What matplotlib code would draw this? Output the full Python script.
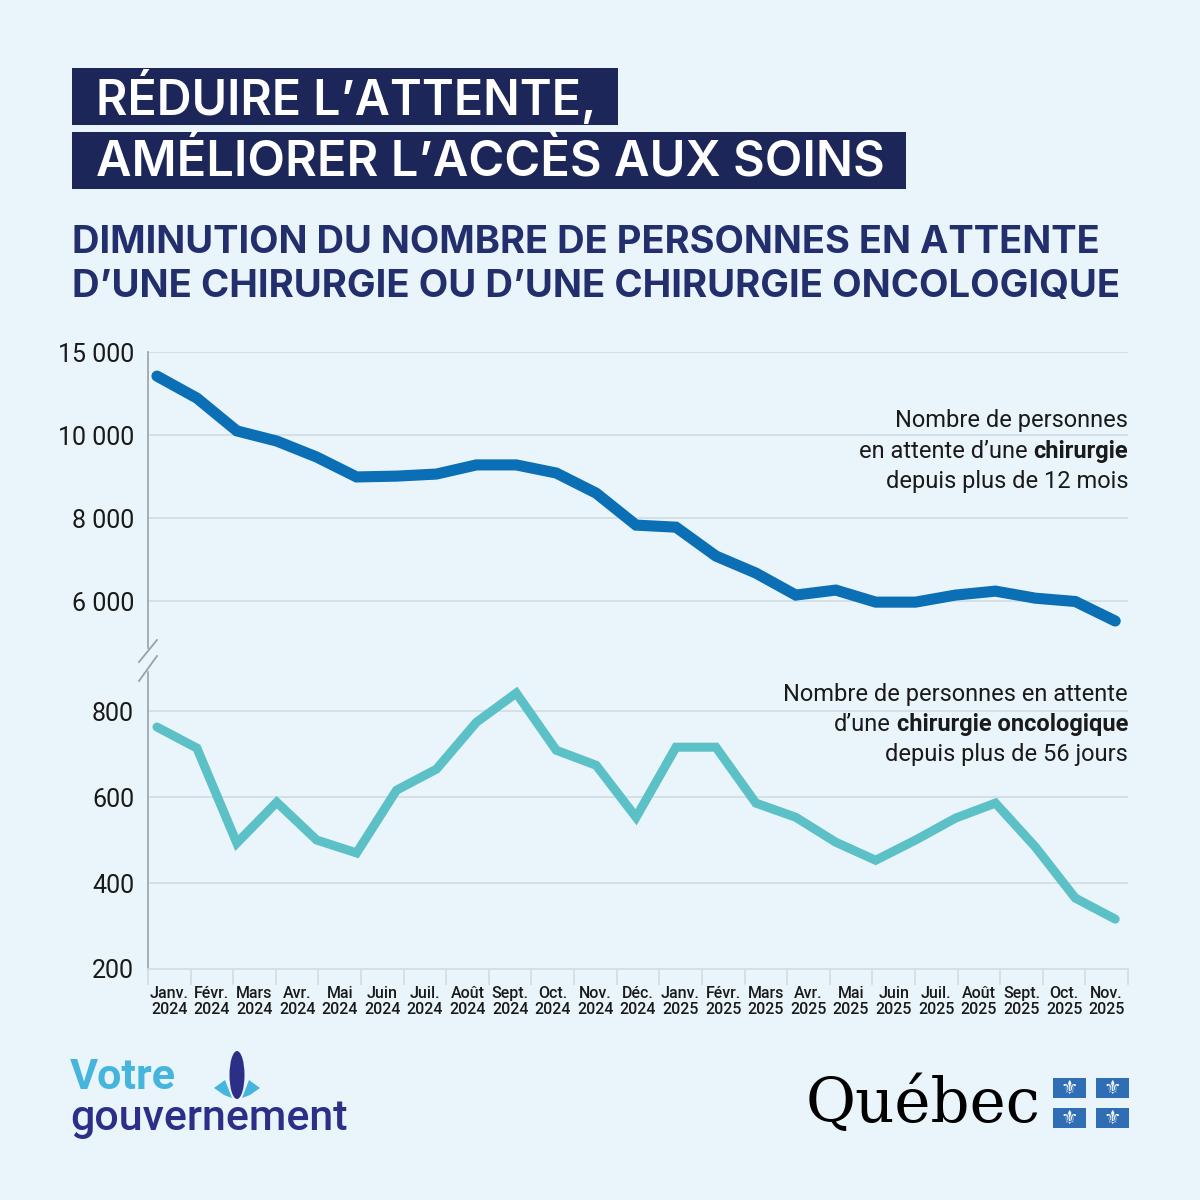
import matplotlib
matplotlib.use("Agg")
import matplotlib.pyplot as plt
import numpy as np
from matplotlib.patches import Rectangle, Ellipse, Polygon
from matplotlib.lines import Line2D

# chart data (25 four-week periods, Jan 2024 -> Nov 2025)
months = ["Janv.", "Févr.", "Mars", "Avr.", "Mai", "Juin", "Juil.", "Août",
          "Sept.", "Oct.", "Nov.", "Déc.", "Janv.", "Févr.", "Mars", "Avr.",
          "Mai", "Juin", "Juil.", "Août", "Sept.", "Oct.", "Nov."]
years = ["2024"] * 12 + ["2025"] * 11
chirurgie = [11420, 10890, 10100, 9855, 9470, 8990, 9010, 9060, 9280, 9280,
             9085, 8600, 7830, 7780, 7085, 6675, 6145, 6265, 5975, 5975,
             6145, 6240, 6070, 5990, 5520]
oncologie = [763, 714, 493, 588, 500, 470, 616, 665, 774, 842, 709, 674, 553,
             716, 716, 586, 553, 495, 453, 500, 551, 586, 484, 365, 316]
top_ticks = [6000, 8000, 10000, 12000]
top_labels = ["6 000", "8 000", "10 000", "15 000"]
bot_ticks = [200, 400, 600, 800]
bot_labels = ["200", "400", "600", "800"]

BG = "#eaf5fb"
NAVY = "#1c2658"
SUB = "#232f6c"
BLUE = "#0a6fb4"
TEAL = "#5bc1c6"
GRID = "#d3dde4"
AXIS = "#9aa0a6"
TXT = "#1a1a1a"
HEAD = ["Inter", "Open Sans", "DejaVu Sans"]

plt.rcParams["font.family"] = ["Roboto", "DejaVu Sans"]

W = H = 1200
fig = plt.figure(figsize=(12, 12), dpi=100, facecolor=BG)


def fx(x):
    return x / W


def fy(y):
    return 1 - y / H


x0, x1 = 148, 1128
ax_top = fig.add_axes([fx(x0), fy(648), (x1 - x0) / W, (648 - 352) / H])
ax_bot = fig.add_axes([fx(x0), fy(969), (x1 - x0) / W, (969 - 672) / H])

xpos = np.linspace(0.21, 22.7, len(chirurgie))

for ax in (ax_top, ax_bot):
    ax.set_facecolor("none")
    ax.set_xlim(0, 23)
    for s in ("top", "right"):
        ax.spines[s].set_visible(False)
    ax.spines["left"].set_color(AXIS)
    ax.spines["left"].set_linewidth(1.2)
    ax.grid(axis="y", color=GRID, lw=1.3)
    ax.set_axisbelow(True)
    ax.tick_params(axis="y", length=0, pad=10, labelsize=18, labelcolor=TXT)

ax_top.spines["bottom"].set_visible(False)
ax_top.set_xticks([])
ax_top.set_ylim(4870, 12000)
ax_top.set_yticks(top_ticks)
ax_top.set_yticklabels(top_labels)
ax_top.plot(xpos, chirurgie, color=BLUE, lw=8, solid_capstyle="round",
            solid_joinstyle="miter", clip_on=False)

ax_bot.set_ylim(200, 891)
ax_bot.set_yticks(bot_ticks)
ax_bot.set_yticklabels(bot_labels)
ax_bot.spines["bottom"].set_color(GRID)
ax_bot.spines["bottom"].set_linewidth(1.3)
ax_bot.set_xticks(np.arange(0, 24))
ax_bot.set_xticklabels([])
ax_bot.tick_params(axis="x", which="major", length=11.5, width=1.3, color=GRID)
ax_bot.set_xticks(np.arange(23) + 0.5, minor=True)
ax_bot.set_xticklabels([f"{m}\n{y}" for m, y in zip(months, years)], minor=True)
ax_bot.tick_params(axis="x", which="minor", length=0, pad=12.5, labelsize=11.5,
                   labelcolor=TXT)
for lab in ax_bot.get_xticklabels(minor=True):
    lab.set_linespacing(1.05)
    lab.set_fontweight("medium")
ax_bot.plot(xpos, oncologie, color=TEAL, lw=6.5, solid_capstyle="round",
            solid_joinstyle="miter", clip_on=False)

# axis break marks
for ya, yb in ((662, 640), (681, 656)):
    fig.add_artist(Line2D([fx(139), fx(157)], [fy(ya), fy(yb)], color=AXIS,
                          lw=1.3, transform=fig.transFigure))

renderer = fig.canvas.get_renderer()


def width_of(text, size, weight):
    t = fig.text(0, 0, text, fontsize=size, fontweight=weight)
    w = t.get_window_extent(renderer).width
    t.remove()
    return w


def rich_line(x_right, y, parts, size, color=TXT):
    space = width_of("x x", size, "normal") - width_of("xx", size, "normal")
    x = x_right
    for text, weight in reversed(parts):
        t = fig.text(fx(x), fy(y), text, ha="right", va="baseline",
                     fontsize=size, fontweight=weight, color=color)
        x = t.get_window_extent(renderer).x0 - space


def fitted_text(x, y, text, right, size, **kw):
    # scale the font so the line ends at the given pixel x
    t = fig.text(fx(x), fy(y), text, ha="left", va="center", fontsize=size, **kw)
    w = t.get_window_extent(renderer).width
    t.set_fontsize(size * (right - x) / w)
    return t


ann = 17
rich_line(x1, 427, [("Nombre de personnes", "normal")], ann)
rich_line(x1, 458, [("en attente d’une", "normal"), ("chirurgie", "bold")], ann)
rich_line(x1, 488, [("depuis plus de 12 mois", "normal")], ann)
rich_line(x1, 701, [("Nombre de personnes en attente", "normal")], ann)
rich_line(x1, 731, [("d’une", "normal"), ("chirurgie oncologique", "bold")], ann)
rich_line(x1, 761, [("depuis plus de 56 jours", "normal")], ann)

# title boxes
for text, ytop, tright in (("RÉDUIRE L’ATTENTE,", 68, 597),
                           ("AMÉLIORER L’ACCÈS AUX SOINS", 132, 885)):
    fitted_text(96, ytop + 30, text, tright, 33, fontweight="semibold",
                color="white", zorder=3, family=HEAD)
    fig.add_artist(Rectangle((fx(72), fy(ytop + 57)), (tright + 21 - 72) / W, 57 / H,
                             facecolor=NAVY, edgecolor="none",
                             transform=fig.transFigure, zorder=2))

for text, yc, tright in (("DIMINUTION DU NOMBRE DE PERSONNES EN ATTENTE", 243, 1100),
                         ("D’UNE CHIRURGIE OU D’UNE CHIRURGIE ONCOLOGIQUE", 287, 1120)):
    fitted_text(72, yc, text, tright, 26, fontweight="bold", color=SUB, family=HEAD)

# footer logos
fig.text(fx(70), fy(1089), "Votre", fontsize=31, fontweight="bold",
         color="#45b5de", va="baseline")
fig.text(fx(70), fy(1130), "gouvernement", fontsize=31, fontweight="medium",
         color="#2b2f87", va="baseline")
fig.add_artist(Ellipse((fx(237), fy(1075)), 15 / W, 48 / H, facecolor="#2b2f87",
                       edgecolor="none", transform=fig.transFigure))
fig.add_artist(Polygon([(fx(214), fy(1088)), (fx(225), fy(1080)), (fx(232), fy(1098)),
                        (fx(224), fy(1095))], closed=True, facecolor="#45b5de",
                       edgecolor="none", transform=fig.transFigure))
fig.add_artist(Polygon([(fx(260), fy(1088)), (fx(249), fy(1080)), (fx(242), fy(1098)),
                        (fx(250), fy(1095))], closed=True, facecolor="#45b5de",
                       edgecolor="none", transform=fig.transFigure))

fig.text(fx(806), fy(1122), "Québec", fontsize=44, color="black",
         family=["DejaVu Serif"], va="baseline")
for rx in (1053, 1096):
    for ry in (1078, 1108):
        fig.add_artist(Rectangle((fx(rx), fy(ry + 20)), 33 / W, 20 / H,
                                 facecolor="#2f6db5", edgecolor="none",
                                 transform=fig.transFigure))
        fig.text(fx(rx + 16.5), fy(ry + 10), "\u269c", fontsize=14, color="white",
                 ha="center", va="center", family="DejaVu Sans")

fig.savefig("out.png", dpi=100, facecolor=BG)
